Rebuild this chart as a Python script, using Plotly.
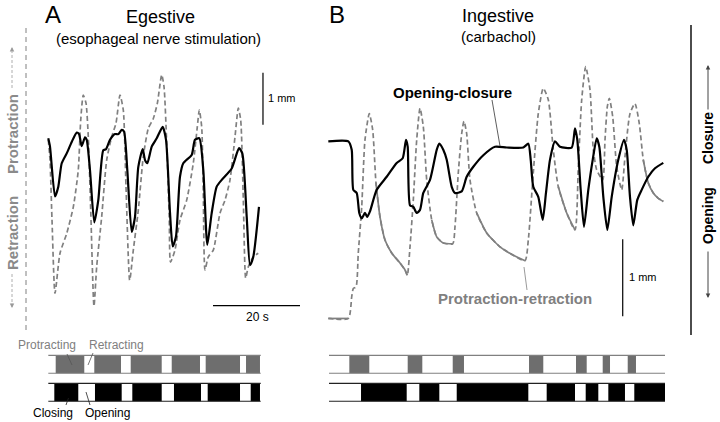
import plotly.graph_objects as go

# ---- data (time in s, displacement in mm) ----
# Panel A, egestive
a_oc_t = [1.9, 2.3, 3.45, 4.21, 4.99, 6.14, 7.29, 8.44, 8.97, 9.59, 10.34, 10.74, 11.49, 12.48, 13.4,
          14.55, 15.17, 16.09, 17.24, 18.0, 18.78, 19.31, 20.07, 21.08, 21.84, 22.6, 23.61, 24.14, 24.67,
          25.68, 26.83, 28.21, 28.97, 29.89, 30.51, 31.26, 32.18, 32.94, 34.87, 35.63, 36.62, 37.54, 38.46,
          39.47, 40.62, 41.77, 44.07, 45.75, 46.51, 47.52, 48.28, 49.03, 50.34]
a_oc_v = [3.11, 2.95, 1.99, 2.18, 2.63, 2.82, 3.04, 3.22, 3.19, 2.96, 3.13, 3.08, 2.5, 1.49, 1.92,
          2.88, 2.9, 3.08, 3.19, 3.19, 3.27, 3.24, 2.5, 1.31, 1.6, 2.56, 2.9, 2.69, 2.63,
          2.95, 3.11, 3.33, 3.08, 1.67, 1.03, 1.22, 2.37, 2.63, 2.79, 3.08, 3.11, 2.5, 1.06,
          1.67, 2.18, 2.31, 2.53, 2.92, 2.82, 1.6, 0.67, 0.83, 1.79]

a_pr_t = [1.91, 2.3, 2.76, 3.45, 4.6, 6.14, 7.66, 8.8, 9.36, 9.95, 10.57, 11.1, 11.66, 12.41, 13.03,
          14.18, 15.33, 16.48, 17.47, 18.39, 19.15, 19.77, 20.62, 21.45, 22.6, 23.75, 24.9, 26.05, 26.97,
          27.98, 28.51, 29.13, 29.72, 30.0, 31.03, 32.18, 33.72, 35.24, 36.16, 36.62, 37.17, 37.54, 37.93,
          38.69, 39.84, 41.38, 42.53, 43.68, 44.83, 45.59, 46.14, 46.74, 47.29, 47.89, 49.03, 50.18]
a_pr_v = [3.08, 2.69, 1.54, 0.13, 0.9, 1.28, 1.79, 2.5, 3.46, 3.94, 3.79, 3.14, 1.73, -0.12, 0.64,
          1.6, 2.69, 3.14, 3.4, 3.94, 3.65, 2.18, 0.38, 0.96, 1.73, 2.76, 3.3, 3.49, 3.78,
          4.33, 4.1, 3.01, 1.54, 0.73, 0.96, 1.54, 1.92, 2.63, 3.33, 3.65, 3.33, 2.05, 0.58,
          0.83, 0.96, 1.67, 1.92, 2.31, 3.14, 3.69, 3.46, 1.92, 0.42, 0.64, 0.83, 0.9]

# Panel B, ingestive
b_oc_t = [1.91, 6.51, 7.29, 7.66, 8.44, 9.03, 9.59, 10.34, 10.87, 11.49, 13.03, 15.33, 17.63, 19.01, 19.77,
          20.16, 20.69, 21.45, 22.23, 22.99, 23.75, 25.29, 26.83, 27.43, 28.34, 29.13, 30.28, 31.03, 32.57,
          33.72, 35.24, 37.54, 40.23, 42.92, 46.74, 47.89, 48.44, 49.03, 50.18, 51.2, 51.95, 52.87, 54.02,
          55.17, 57.86, 58.62, 59.15, 59.93, 60.69, 61.68, 62.69, 63.61, 64.21, 65.13, 66.05, 67.06, 68.57,
          69.89, 70.51, 71.26, 72.02, 72.94, 73.95, 75.47, 77.01, 78.92]
b_oc_v = [2.32, 2.32, 2.21, 1.69, 1.65, 1.39, 1.32, 1.39, 1.34, 1.41, 1.69, 1.86, 2.04, 2.1, 2.34,
          2.25, 1.49, 1.47, 1.39, 1.43, 1.65, 1.82, 2.21, 2.29, 2.21, 2.08, 1.73, 1.65, 1.67,
          1.86, 1.99, 2.14, 2.25, 2.24, 2.24, 2.29, 2.08, 1.73, 1.6, 1.3, 1.65, 2.08, 2.32,
          2.25, 2.24, 2.49, 2.34, 1.69, 1.21, 1.69, 2.08, 2.36, 2.25, 1.6, 1.17, 1.6, 2.08,
          2.34, 2.21, 1.6, 1.23, 1.56, 1.69, 1.86, 1.97, 2.04]

b_pr_t = [1.91, 6.51, 7.29, 7.66, 8.28, 8.8, 9.59, 10.34, 11.33, 12.11, 12.87, 13.79, 14.94, 16.48, 18.39,
          19.54, 20.07, 20.69, 21.45, 22.23, 22.99, 23.75, 24.53, 25.68, 26.83, 28.34, 30.51, 31.03, 31.79,
          32.57, 33.1, 33.72, 34.48, 36.02, 38.32, 41.38, 44.44, 47.13, 47.89, 49.03, 50.18, 51.33, 52.48,
          53.63, 54.78, 56.71, 58.62, 59.38, 60.16, 61.08, 62.07, 62.83, 63.61, 64.99, 65.52, 66.05, 66.51,
          67.29, 68.21, 69.36, 70.11, 71.26, 72.41, 73.4, 74.32, 75.47, 76.62, 77.77, 78.92]
b_pr_v = [0.02, 0.02, 0.3, 0.41, 0.43, 0.87, 1.47, 2.34, 2.68, 2.47, 1.78, 1.34, 1.04, 0.87, 0.74,
          0.65, 0.58, 0.95, 1.56, 2.34, 2.75, 2.51, 1.82, 1.3, 1.08, 1.0, 0.99, 1.21, 1.91,
          2.42, 2.58, 2.42, 1.82, 1.39, 1.13, 0.95, 0.84, 0.77, 1.04, 1.91, 2.68, 3.01, 2.86,
          2.21, 1.73, 1.39, 1.17, 1.99, 2.86, 3.29, 2.99, 2.21, 1.95, 1.82, 2.34, 2.77, 2.88,
          2.64, 1.99, 1.69, 2.12, 2.68, 2.81, 2.55, 2.08, 1.78, 1.65, 1.58, 1.54]
# slow retraction drift phases (drawn solid)
b_drift = [(1.9, 6.6), (12.8, 20.1), (25.6, 30.6), (36.0, 47.2), (54.7, 58.7), (74.3, 79.0)]

# phase bars: (start, end) in s
a_frame = (1.91, 50.74)
a_protracting = [(3.61, 10.18), (12.48, 18.62), (20.85, 27.98), (30.28, 36.78), (38.09, 45.98), (47.36, 50.57)]
a_closing = [(3.29, 8.8), (12.64, 18.78), (21.22, 27.98), (30.8, 37.01), (38.55, 45.98), (48.44, 50.57)]
b_frame = (2.07, 79.31)
b_protracting = [(6.74, 11.33), (20.16, 23.52), (30.51, 33.1), (48.05, 51.33), (58.85, 61.31), (64.99, 66.67), (70.74, 72.64)]
b_closing = [(9.43, 19.93), (22.83, 27.43), (31.43, 47.89), (52.11, 58.62), (61.08, 63.98), (66.28, 70.11), (72.25, 79.31)]

# ---- layout helpers ----
W, H = 720, 422
PX_PER_S = 4.35
PX_MM_A, PX_MM_B = 52, 77
FONT = "Liberation Sans, Arial, sans-serif"
GREY = "#808080"
BAR_GREY = "#6e6e6e"


def px(x):
    return x / W


def py(y):
    return 1 - y / H


fig = go.Figure()

# traces
fig.add_trace(go.Scatter(x=a_pr_t, y=a_pr_v, mode="lines", line=dict(color=GREY, width=1.7, dash="5px,3px", shape="spline", smoothing=0.6),
                         xaxis="x", yaxis="y"))
fig.add_trace(go.Scatter(x=a_oc_t, y=a_oc_v, mode="lines", line=dict(color="black", width=2.2, shape="spline", smoothing=0.6),
                         xaxis="x", yaxis="y"))
fig.add_trace(go.Scatter(x=b_pr_t, y=b_pr_v, mode="lines", line=dict(color=GREY, width=1.7, dash="5px,3px", shape="spline", smoothing=0.6),
                         xaxis="x2", yaxis="y2"))
drift_v = [v if any(s <= t <= e for s, e in b_drift) else None for t, v in zip(b_pr_t, b_pr_v)]
fig.add_trace(go.Scatter(x=b_pr_t, y=drift_v, mode="lines", line=dict(color=GREY, width=1.7, shape="spline", smoothing=0.6),
                         xaxis="x2", yaxis="y2"))
fig.add_trace(go.Scatter(x=b_oc_t, y=b_oc_v, mode="lines", line=dict(color="black", width=2.2, shape="spline", smoothing=0.6),
                         xaxis="x2", yaxis="y2"))

# phase bars
BAR_W = 0.64
for xa, ya, frame, prot, clos in [("x3", "y3", a_frame, a_protracting, a_closing),
                                  ("x4", "y4", b_frame, b_protracting, b_closing)]:
    for row, segs, col, edge in [(1, prot, BAR_GREY, GREY), (0, clos, "black", "#222222")]:
        fig.add_trace(go.Bar(orientation="h", y=[row] * len(segs), base=[s for s, e in segs],
                             x=[e - s for s, e in segs], width=BAR_W, marker=dict(color=col, line=dict(width=0)),
                             xaxis=xa, yaxis=ya))
        fig.add_trace(go.Scatter(x=[frame[0], frame[1], None, frame[0], frame[1]],
                                 y=[row + BAR_W / 2, row + BAR_W / 2, None, row - BAR_W / 2, row - BAR_W / 2],
                                 mode="lines", line=dict(color=edge, width=1.2), xaxis=xa, yaxis=ya))

hidden = dict(visible=False, fixedrange=True)
fig.update_layout(
    width=W, height=H, margin=dict(l=0, r=0, t=0, b=0),
    paper_bgcolor="white", plot_bgcolor="rgba(0,0,0,0)", showlegend=False, barmode="overlay",
    font=dict(family=FONT, color="black"), hovermode=False,
    xaxis=dict(domain=[px(40), px(320)], range=[0, 280 / PX_PER_S], anchor="y", **hidden),
    yaxis=dict(domain=[py(340), py(20)], range=[(300 - 340) / PX_MM_A, (300 - 20) / PX_MM_A], anchor="x", **hidden),
    xaxis2=dict(domain=[px(320), px(680)], range=[0, 360 / PX_PER_S], anchor="y2", **hidden),
    yaxis2=dict(domain=[py(340), py(20)], range=[(320 - 340) / PX_MM_B, (320 - 20) / PX_MM_B], anchor="x2", **hidden),
    xaxis3=dict(domain=[px(40), px(320)], range=[0, 280 / PX_PER_S], anchor="y3", **hidden),
    yaxis3=dict(domain=[py(406.3), py(350.3)], range=[-0.5, 1.5], anchor="x3", **hidden),
    xaxis4=dict(domain=[px(320), px(680)], range=[0, 360 / PX_PER_S], anchor="y4", **hidden),
    yaxis4=dict(domain=[py(406.3), py(350.3)], range=[-0.5, 1.5], anchor="x4", **hidden),
)

# scale bars (data units)
fig.add_shape(type="line", xref="x", yref="y", x0=51.26, x1=51.26, y0=3.37, y1=4.37, line=dict(color="black", width=1.2))
fig.add_shape(type="line", xref="x", yref="y", x0=39.77, x1=59.77, y0=-0.11, y1=-0.11, line=dict(color="black", width=1.2))
fig.add_shape(type="line", xref="x2", yref="y2", x0=69.59, x1=69.59, y0=0.05, y1=1.05, line=dict(color="black", width=1.2))


def text(x, y, s, size, color="black", bold=False, angle=0, xanchor="center"):
    fig.add_annotation(x=px(x), y=py(y), xref="paper", yref="paper", text=f"<b>{s}</b>" if bold else s,
                       showarrow=False, textangle=angle, xanchor=xanchor, yanchor="middle",
                       font=dict(size=size, color=color, family=FONT))


def seg(x0, y0, x1, y1, color="black", width=1, dash="solid"):
    fig.add_shape(type="line", xref="paper", yref="paper", x0=px(x0), y0=py(y0), x1=px(x1), y1=py(y1),
                  line=dict(color=color, width=width, dash=dash))


def arrow(xh, yh, xt, yt, color):
    fig.add_annotation(x=px(xh), y=py(yh), xref="paper", yref="paper", ax=xt - xh, ay=yt - yh, text="",
                       showarrow=True, arrowhead=2, arrowsize=0.9, arrowwidth=1, arrowcolor=color)


# titles
text(53, 15, "A", 24)
text(160, 17, "Egestive", 18)
text(158, 38, "(esophageal nerve stimulation)", 15)
text(337, 15, "B", 24)
text(498, 16, "Ingestive", 18)
text(498, 36, "(carbachol)", 15)

# scale bar labels
text(266, 98, "1 mm", 11, xanchor="left")
text(257, 317, "20 s", 12)
text(627, 277, "1 mm", 11, xanchor="left")

# trace labels
text(452, 92, "Opening-closure", 15, bold=True)
seg(492, 100, 500, 146, "#333333", 0.8)
text(515, 298, "Protraction-retraction", 15, color=GREY, bold=True)
seg(524, 267, 527, 290, GREY, 0.8)

# left axis: protraction/retraction
seg(26, 28, 26, 333, GREY, 1, "5px,4px")
text(12, 134, "Protraction", 15, color="#8a8a8a", bold=True, angle=-90)
text(12, 233, "Retraction", 15, color="#8a8a8a", bold=True, angle=-90)
seg(12, 88, 12, 52, "#9a9a9a", 0.8, "3px,2px")
arrow(12, 47, 12, 53, "#9a9a9a")
seg(12, 274, 12, 302, "#9a9a9a", 0.8, "3px,2px")
arrow(12, 308, 12, 302, "#9a9a9a")

# right axis: opening/closure
seg(691, 25, 691, 335, "black", 1.4)
text(708, 138, "Closure", 14, bold=True, angle=-90)
text(708, 216, "Opening", 14, bold=True, angle=-90)
arrow(708, 65, 708, 111, "#444444")
arrow(708, 298, 708, 250, "#444444")

# phase bar labels
text(47, 345, "Protracting", 12, color=GREY)
text(116, 345, "Retracting", 12, color=GREY)
seg(67, 354, 72, 365, "#555555", 0.8)
seg(93, 353, 88, 365, "#555555", 0.8)
text(53, 413, "Closing", 12)
text(107, 413, "Opening", 12)
seg(66, 405, 68.5, 398, "#222222", 0.8)
seg(90, 405, 86, 392, "#222222", 0.8)

# drop the default page margin so the 720x422 figure fills the window
fig.write_html("out.html", config={"displayModeBar": False},
               post_script="document.body.style.margin='0';")
